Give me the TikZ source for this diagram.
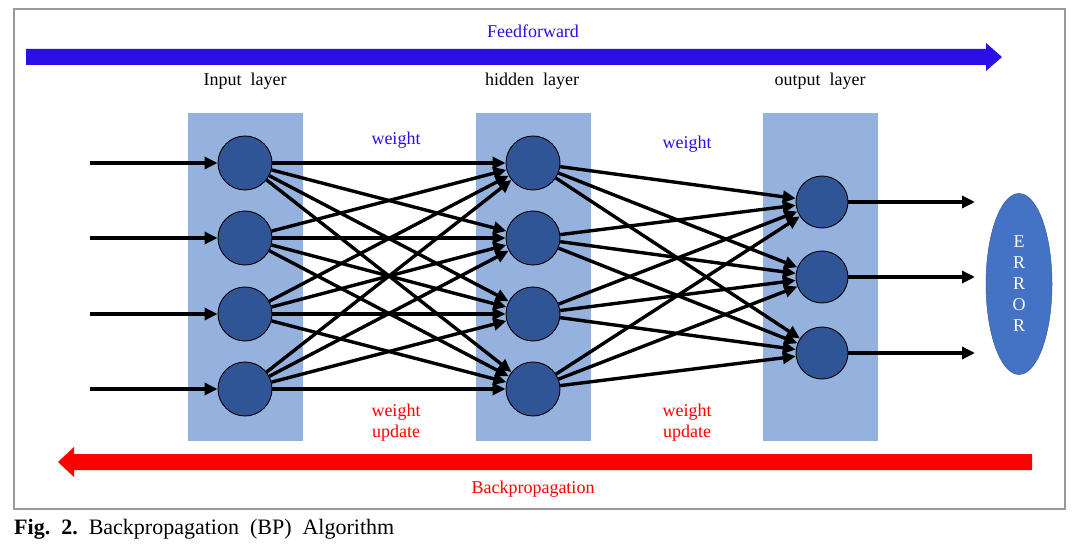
\documentclass[tikz,border=0pt]{standalone}
\usepackage{fontspec}
\setmainfont{Liberation Serif}
\usetikzlibrary{arrows.meta,shapes.geometric}
\definecolor{layerfill}{HTML}{95B1DD}
\definecolor{neuron}{HTML}{2F5597}
\definecolor{errfill}{HTML}{4472C4}
\definecolor{ffblue}{HTML}{2A0FE6}
\definecolor{bpred}{HTML}{FF0000}
\definecolor{framegray}{HTML}{9A9A9A}
\begin{document}
\begin{tikzpicture}[x=1pt,y=-1pt,
  txt/.style={font=\fontsize{18}{21}\selectfont, inner sep=0pt},
  layerbox/.style={fill=layerfill, draw=none, minimum width=115pt, minimum height=328pt, inner sep=0pt},
  neuronnode/.style={circle, fill=neuron, draw=black, line width=0.9pt, minimum size=54pt, inner sep=0pt},
  outneuron/.style={neuronnode, minimum size=52pt},
  conn/.style={line width=3.4pt, -{Triangle[length=13pt,width=12pt]}},
]
\useasboundingbox (0,0) rectangle (1081,553);
\fill[white] (0,0) rectangle (1081,553);
% frame
\draw[framegray, line width=1.5pt] (14,9) rectangle (1065,509);
% feedforward arrow
\fill[ffblue] (26,49) -- (986,49) -- (986,43) -- (1002,57) -- (986,71) -- (986,65) -- (26,65) -- cycle;
\node[txt, text=ffblue] (fftext) at (533,31) {Feedforward};
% backprop arrow
\fill[bpred] (1032,454) -- (74,454) -- (74,447) -- (58,462) -- (74,477) -- (74,470) -- (1032,470) -- cycle;
\node[txt, text=bpred] (bptext) at (533,489) {Backpropagation};
% layer labels
\node[txt] (inlabel) at (245,81) {Input\ \ layer};
\node[txt] (hidlabel) at (532,81) {hidden\ \ layer};
\node[txt] (outlabel) at (820,81) {output\ \ layer};
% layer boxes
\node[layerbox] (inbox) at (245.5,277) {};
\node[layerbox] (hidbox) at (533.5,277) {};
\node[layerbox] (outbox) at (820.5,277) {};
% weight labels
\node[txt, text=ffblue] (w1) at (396,140) {weight};
\node[txt, text=ffblue] (w2) at (687,144) {weight};
\node[txt, text=bpred, align=center] (wu1) at (396,423) {weight\\update};
\node[txt, text=bpred, align=center] (wu2) at (687,423) {weight\\update};
% neurons
\foreach \i/\y in {1/163,2/238,3/314,4/389}{
  \node[neuronnode] (i\i) at (245,\y) {};
  \node[neuronnode] (h\i) at (533,\y) {};
  \coordinate (s\i) at (90,\y);
}
\foreach \i/\y in {1/202,2/277,3/353}{
  \node[outneuron] (o\i) at (822,\y) {};
  \coordinate (e\i) at (975,\y);
}
% error
\node[ellipse, fill=errfill, draw=errfill!80!black, line width=0.5pt, minimum width=66pt, minimum height=181pt, inner sep=0pt] (err) at (1019,284) {};
\foreach \c/\y in {E/242,R/263,R/284,O/305,R/326}{
  \node[font=\fontsize{18}{18}\selectfont, text=white, inner sep=0pt] at (1019,\y) {\c};
}
% connections
\foreach \i in {1,2,3,4}{
  \draw[conn] (s\i) -- (i\i);
  \foreach \j in {1,2,3,4}{
    \draw[conn] (i\i) -- (h\j);
  }
  \foreach \j in {1,2,3}{
    \draw[conn] (h\i) -- (o\j);
  }
}
\foreach \j in {1,2,3}{
  \draw[conn] (o\j) -- (e\j);
}
% caption
\node[anchor=west, font=\fontsize{22}{25}\selectfont, inner sep=0pt] (caption) at (14,529) {\textbf{Fig.\ \ 2.}\ \ Backpropagation\ \ (BP)\ \ Algorithm};
\end{tikzpicture}
\end{document}
